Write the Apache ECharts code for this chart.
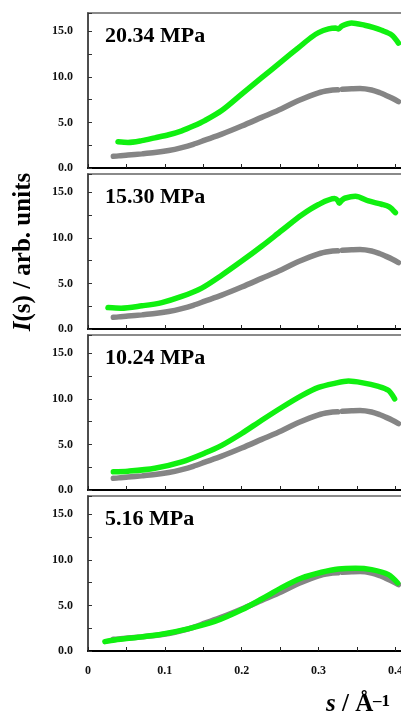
<!DOCTYPE html>
<html><head><meta charset="utf-8">
<script src="https://cdn.jsdelivr.net/npm/echarts@6/dist/echarts.min.js"></script>
<style>html,body{margin:0;padding:0;background:#fff}#c{width:401px;height:720px}</style>
</head><body><div id="c"></div>
<script>
const pressures = ['20.34 MPa', '15.30 MPa', '10.24 MPa', '5.16 MPa'];
const yTicks = [0, 5, 10, 15];
const xTicks = [0, 0.1, 0.2, 0.3, 0.4];

const sGray = [0.033,0.040,0.052,0.070,0.087,0.105,0.122,0.137,0.152,0.174,0.200,0.226,0.252,0.274,0.300,0.314,0.325,0.328,0.331,0.343,0.354,0.369,0.380,0.387,0.396,0.404];
const iGray = [1.29,1.33,1.43,1.55,1.69,1.92,2.24,2.60,3.05,3.71,4.60,5.55,6.50,7.40,8.25,8.50,8.58,null,8.63,8.68,8.71,8.55,8.25,8.00,7.65,7.28];

const sGreen2034 = [0.039,0.052,0.070,0.087,0.105,0.122,0.137,0.152,0.174,0.200,0.226,0.252,0.274,0.290,0.300,0.313,0.322,0.326,0.330,0.343,0.360,0.372,0.382,0.395,0.404];
const iGreen2034 = [2.87,2.80,3.00,3.31,3.65,4.08,4.60,5.20,6.30,8.10,9.90,11.70,13.20,14.30,14.85,15.25,15.35,15.25,15.55,15.90,15.66,15.40,15.10,14.60,13.70];

const sGreen1530 = [0.026,0.043,0.070,0.096,0.122,0.148,0.174,0.200,0.226,0.252,0.278,0.300,0.321,0.325,0.327,0.330,0.334,0.348,0.365,0.382,0.392,0.400];
const iGreen1530 = [2.35,2.28,2.54,2.90,3.57,4.49,5.90,7.45,9.08,10.80,12.50,13.65,14.30,14.10,13.80,14.10,14.34,14.56,14.04,13.68,13.40,12.76];

const sGreen1024 = [0.033,0.052,0.087,0.122,0.152,0.174,0.200,0.226,0.252,0.278,0.300,0.321,0.339,0.356,0.378,0.391,0.399];
const iGreen1024 = [1.99,2.06,2.39,3.09,4.05,4.90,6.20,7.65,9.05,10.35,11.25,11.70,11.95,11.78,11.36,10.92,10.00];

const sGreen516 = [0.022,0.035,0.065,0.096,0.130,0.165,0.200,0.226,0.252,0.278,0.304,0.326,0.348,0.369,0.391,0.403];
const iGreen516 = [1.03,1.21,1.51,1.84,2.43,3.24,4.52,5.70,6.95,8.00,8.64,9.00,9.08,8.93,8.38,7.46];

const greenS = [sGreen2034, sGreen1530, sGreen1024, sGreen516];
const greenI = [iGreen2034, iGreen1530, iGreen1024, iGreen516];

const FONT = "'Liberation Serif','Times New Roman',serif";
const pair = (s, v) => s.map((x, k) => [x, v[k] == null ? '-' : v[k]]);

const grids = [], xAxes = [], yAxes = [], series = [], graphics = [];
for (let p = 0; p < 4; p++) {
  const top = 13 + 161 * p;
  grids.push({left: 88, width: 317, top: top, height: 155, show: true, borderColor: '#8a8a8a', borderWidth: 2,
    containLabel: false, outerBoundsMode: 'none'});
  xAxes.push({
    type: 'value', gridIndex: p, min: 0, max: 0.4125, interval: 0.05,
    axisLine: {onZero: false, lineStyle: {color: '#000', width: 2}},
    axisTick: {inside: true, length: 4, lineStyle: {color: '#222', width: 1}},
    splitLine: {show: false},
    axisLabel: {
      show: p === 3, margin: 14, color: '#111', fontFamily: FONT, fontWeight: 'bold', fontSize: 12,
      formatter: v => { const r = Math.round(v * 1000); if (r % 100) return ''; const t = r / 1000; return xTicks.includes(t) ? (t === 0 ? '0' : t.toFixed(1)) : ''; }
    }
  });
  yAxes.push({
    type: 'value', gridIndex: p, min: 0, max: 17, interval: 2.5,
    axisLine: {onZero: false, lineStyle: {color: '#3a3a3a', width: 1.5}},
    axisTick: {inside: true, length: 4, lineStyle: {color: '#333', width: 1}},
    splitLine: {show: false},
    axisLabel: {
      margin: 15, color: '#111', fontFamily: FONT, fontWeight: 'bold', fontSize: 12,
      formatter: v => yTicks.includes(v) ? v.toFixed(1) : ''
    }
  });
  series.push({
    type: 'line', xAxisIndex: p, yAxisIndex: p, data: pair(sGray, iGray),
    showSymbol: false, smooth: 0.3, connectNulls: false, silent: true,
    lineStyle: {color: '#858585', width: 5.5, cap: 'round'}
  });
  series.push({
    type: 'line', xAxisIndex: p, yAxisIndex: p, data: pair(greenS[p], greenI[p]),
    showSymbol: false, smooth: 0.3, silent: true,
    lineStyle: {color: '#10f010', width: 5.5, cap: 'round'}
  });
  graphics.push({
    type: 'text', x: 105, y: 36 + 161 * p,
    style: {text: pressures[p], fill: '#000', font: "bold 22px " + FONT, verticalAlign: 'middle', align: 'left'}
  });
}

graphics.push({
  type: 'text', x: 24, y: 252, rotation: Math.PI / 2,
  style: {
    text: '{i|I}{r|(s) / arb. units}', align: 'center', verticalAlign: 'middle',
    rich: {
      i: {font: "italic bold 25px " + FONT, fill: '#000'},
      r: {font: "bold 25px " + FONT, fill: '#000'}
    }
  }
});
graphics.push({
  type: 'text', x: 326, y: 717,
  style: {
    text: '{i|s}{r| / Å}', align: 'left', verticalAlign: 'bottom',
    rich: {
      i: {font: "italic bold 25px " + FONT, fill: '#000'},
      r: {font: "bold 25px " + FONT, fill: '#000'}
    }
  }
});
graphics.push({
  type: 'text', x: 373, y: 693,
  style: {text: '\u20131', font: "bold 17px " + FONT, fill: '#000', align: 'left', verticalAlign: 'top'}
});

const chart = echarts.init(document.getElementById('c'), null, {renderer: 'canvas'});
chart.setOption({
  animation: false,
  backgroundColor: '#fff',
  grid: grids, xAxis: xAxes, yAxis: yAxes, series: series, graphic: graphics
});
</script></body></html>
